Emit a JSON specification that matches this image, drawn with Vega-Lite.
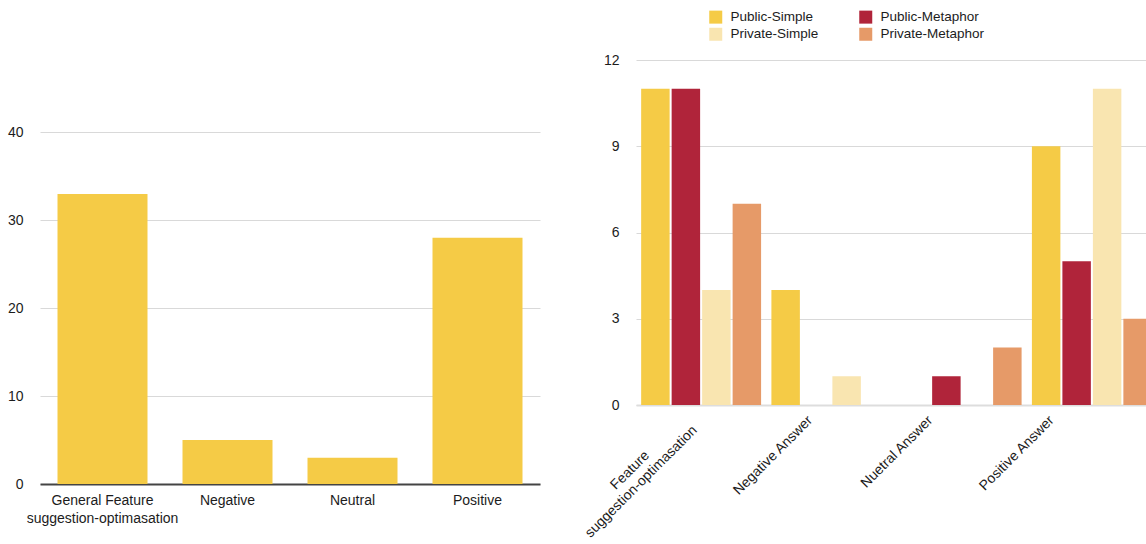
{
  "$schema": "https://vega.github.io/schema/vega-lite/v6.json",
  "background": "white",
  "padding": {"left": 7, "top": 10, "right": 0, "bottom": 0},
  "datasets": {
    "overall": [
      {"category": "General Feature\nsuggestion-optimasation", "count": 33},
      {"category": "Negative", "count": 5},
      {"category": "Neutral", "count": 3},
      {"category": "Positive", "count": 28}
    ],
    "by_group": [
      {"answer": "Feature\nsuggestion-optimasation", "group": "Public-Simple", "count": 11},
      {"answer": "Feature\nsuggestion-optimasation", "group": "Public-Metaphor", "count": 11},
      {"answer": "Feature\nsuggestion-optimasation", "group": "Private-Simple", "count": 4},
      {"answer": "Feature\nsuggestion-optimasation", "group": "Private-Metaphor", "count": 7},
      {"answer": "Negative Answer", "group": "Public-Simple", "count": 4},
      {"answer": "Negative Answer", "group": "Public-Metaphor", "count": 0},
      {"answer": "Negative Answer", "group": "Private-Simple", "count": 1},
      {"answer": "Negative Answer", "group": "Private-Metaphor", "count": 0},
      {"answer": "Nuetral Answer", "group": "Public-Simple", "count": 0},
      {"answer": "Nuetral Answer", "group": "Public-Metaphor", "count": 1},
      {"answer": "Nuetral Answer", "group": "Private-Simple", "count": 0},
      {"answer": "Nuetral Answer", "group": "Private-Metaphor", "count": 2},
      {"answer": "Positive Answer", "group": "Public-Simple", "count": 9},
      {"answer": "Positive Answer", "group": "Public-Metaphor", "count": 5},
      {"answer": "Positive Answer", "group": "Private-Simple", "count": 11},
      {"answer": "Positive Answer", "group": "Private-Metaphor", "count": 3}
    ]
  },
  "config": {
    "font": "Liberation Sans",
    "view": {"stroke": null},
    "axis": {
      "labelFont": "Liberation Sans",
      "labelFontSize": 14,
      "labelColor": "#1c1c1c",
      "ticks": false,
      "title": null,
      "gridColor": "#d9d9d9",
      "gridWidth": 1,
      "labelOverlap": false,
      "labelLimit": 400
    },
    "legend": {
      "labelFont": "Liberation Sans",
      "labelFontSize": 13.5,
      "labelColor": "#1c1c1c",
      "symbolType": "square",
      "symbolSize": 169,
      "symbolStrokeWidth": 0,
      "labelOffset": 8,
      "columnPadding": 40,
      "rowPadding": 2.5
    }
  },
  "bounds": "flush",
  "spacing": 96,
  "hconcat": [
    {
      "width": 500,
      "height": 424,
      "data": {"name": "overall"},
      "mark": {"type": "bar", "color": "#F5CB46"},
      "encoding": {
        "x": {
          "field": "category",
          "type": "nominal",
          "sort": null,
          "scale": {"paddingInner": 0.28, "paddingOuter": 0.14},
          "axis": {
            "labelAngle": 0,
            "labelPadding": 9,
            "labelLineHeight": 18,
            "domainColor": "#444444",
            "domainWidth": 2,
            "labelExpr": "split(datum.label, '\\n')"
          }
        },
        "y": {
          "field": "count",
          "type": "quantitative",
          "scale": {"domain": [0, 48.23], "nice": false},
          "axis": {"values": [0, 10, 20, 30, 40], "domain": false, "grid": true, "labelPadding": 17}
        }
      }
    },
    {
      "width": 521,
      "height": 345,
      "data": {"name": "by_group"},
      "mark": {"type": "bar"},
      "encoding": {
        "x": {
          "field": "answer",
          "type": "nominal",
          "sort": null,
          "scale": {"paddingInner": 0, "paddingOuter": 0},
          "axis": {
            "labelAngle": -45,
            "labelLineHeight": 16,
            "labelPadding": {"condition": {"test": "indexof(datum.value, 'suggestion') >= 0", "value": 60}, "value": 8},
            "labelAlign": {"condition": {"test": "indexof(datum.value, 'suggestion') >= 0", "value": "center"}, "value": "right"},
            "labelOffset": {
              "condition": [
                {"test": "indexof(datum.value, 'suggestion') >= 0", "value": -76},
                {"test": "indexof(datum.value, 'Negative') >= 0", "value": -26},
                {"test": "indexof(datum.value, 'Nuetral') >= 0", "value": -36}
              ],
              "value": -45
            },
            "domainColor": "#dddddd",
            "domainWidth": 2,
            "labelExpr": "split(datum.label, '\\n')"
          }
        },
        "xOffset": {
          "field": "group",
          "type": "nominal",
          "sort": ["Public-Simple", "Public-Metaphor", "Private-Simple", "Private-Metaphor"],
          "scale": {"paddingInner": 0.066, "paddingOuter": 0.169}
        },
        "y": {
          "field": "count",
          "type": "quantitative",
          "scale": {"domain": [0, 12], "nice": false},
          "axis": {"values": [0, 3, 6, 9, 12], "domain": false, "grid": true, "labelPadding": 17}
        },
        "color": {
          "field": "group",
          "type": "nominal",
          "scale": {
            "domain": ["Public-Simple", "Public-Metaphor", "Private-Simple", "Private-Metaphor"],
            "range": ["#F5CB46", "#B0243A", "#F9E5B0", "#E69A68"]
          },
          "legend": {"title": null, "orient": "none", "legendX": 669, "legendY": -50, "columns": 2, "direction": "horizontal"}
        }
      }
    }
  ]
}
